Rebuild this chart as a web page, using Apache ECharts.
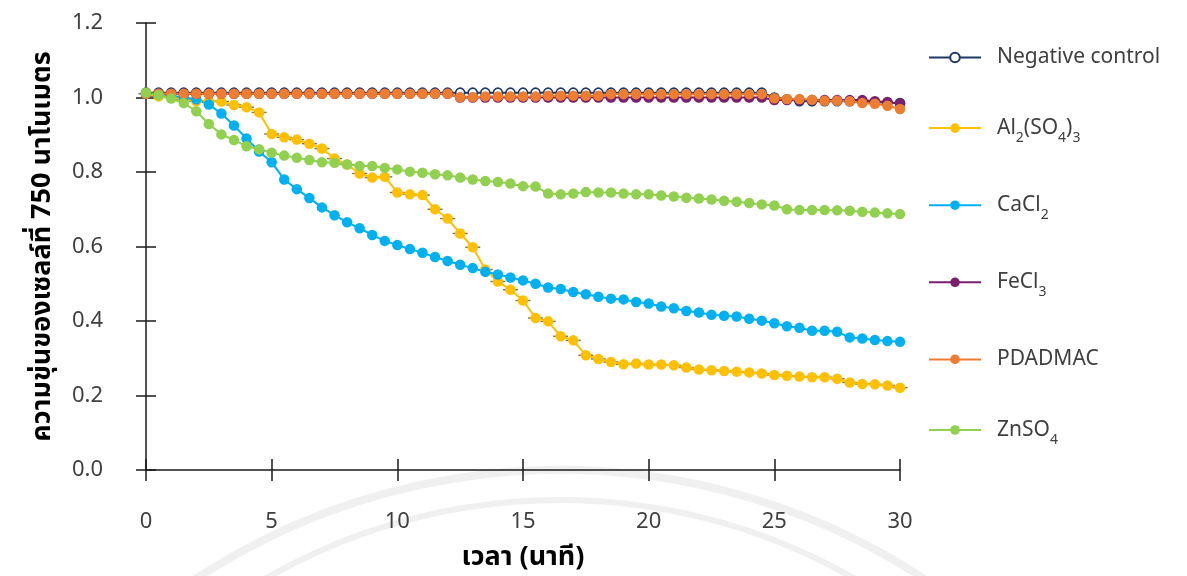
<!DOCTYPE html>
<html>
<head>
<meta charset="utf-8">
<script src="https://cdn.jsdelivr.net/npm/echarts@6/dist/echarts.min.js"></script>
<style>
  html, body { margin: 0; padding: 0; background: #ffffff; }
  #chart { width: 1187px; height: 576px; }
</style>
</head>
<body>
<div id="chart"></div>
<script>
// Sampling times (minutes), one reading every 30 s
const minutes = [
  0, 0.5, 1, 1.5, 2, 2.5, 3, 3.5, 4, 4.5,
  5, 5.5, 6, 6.5, 7, 7.5, 8, 8.5, 9, 9.5,
  10, 10.5, 11, 11.5, 12, 12.5, 13, 13.5, 14, 14.5,
  15, 15.5, 16, 16.5, 17, 17.5, 18, 18.5, 19, 19.5,
  20, 20.5, 21, 21.5, 22, 22.5, 23, 23.5, 24, 24.5,
  25, 25.5, 26, 26.5, 27, 27.5, 28, 28.5, 29, 29.5, 30
];

// Optical density at 750 nm for each flocculant
const negativeControl = [
  1.013, 1.013, 1.013, 1.013, 1.013, 1.013, 1.013, 1.013, 1.013, 1.013,
  1.013, 1.013, 1.013, 1.013, 1.013, 1.013, 1.013, 1.013, 1.013, 1.013,
  1.013, 1.013, 1.013, 1.013, 1.013, 1.013, 1.013, 1.013, 1.013, 1.013,
  1.013, 1.013, 1.013, 1.013, 1.013, 1.013, 1.013, 1.013, 1.013, 1.013,
  1.013, 1.013, 1.013, 1.013, 1.013, 1.013, 1.013, 1.013, 1.013, 1.013,
  1.000, 0.995, 0.990, 0.990, 0.990, 0.990, 0.990, 0.990, 0.988, 0.986, 0.985
];
const aluminiumSulfate = [
  1.010, 1.003, 1.000, 0.995, 0.990, 0.990, 0.989, 0.980, 0.974, 0.960,
  0.902, 0.893, 0.887, 0.876, 0.863, 0.836, 0.820, 0.796, 0.785, 0.787,
  0.745, 0.740, 0.738, 0.700, 0.675, 0.635, 0.598, 0.538, 0.506, 0.484,
  0.455, 0.408, 0.399, 0.359, 0.348, 0.308, 0.298, 0.290, 0.284, 0.286,
  0.283, 0.283, 0.281, 0.275, 0.270, 0.268, 0.266, 0.264, 0.262, 0.259,
  0.255, 0.253, 0.251, 0.249, 0.249, 0.245, 0.235, 0.231, 0.230, 0.227, 0.221
];
const calciumChloride = [
  1.010, 1.010, 1.005, 1.000, 0.995, 0.981, 0.957, 0.925, 0.890, 0.855,
  0.826, 0.780, 0.754, 0.730, 0.705, 0.684, 0.665, 0.649, 0.631, 0.615,
  0.604, 0.593, 0.583, 0.572, 0.561, 0.551, 0.542, 0.532, 0.525, 0.517,
  0.509, 0.500, 0.490, 0.486, 0.478, 0.472, 0.465, 0.460, 0.458, 0.451,
  0.447, 0.439, 0.434, 0.427, 0.423, 0.417, 0.414, 0.412, 0.406, 0.401,
  0.394, 0.386, 0.382, 0.374, 0.374, 0.371, 0.356, 0.353, 0.349, 0.346, 0.344
];
const ferricChloride = [
  1.010, 1.010, 1.010, 1.010, 1.010, 1.010, 1.010, 1.010, 1.010, 1.010,
  1.010, 1.010, 1.010, 1.010, 1.010, 1.010, 1.010, 1.010, 1.010, 1.010,
  1.010, 1.010, 1.010, 1.010, 1.010, 1.000, 1.000, 1.000, 1.000, 1.000,
  1.000, 1.000, 1.000, 1.000, 1.000, 1.000, 1.000, 1.000, 1.000, 1.000,
  1.000, 1.000, 1.000, 1.000, 1.000, 1.000, 1.000, 1.000, 1.000, 1.000,
  0.993, 0.993, 0.993, 0.993, 0.993, 0.993, 0.993, 0.993, 0.990, 0.988, 0.984
];
const pdadmac = [
  1.010, 1.010, 1.010, 1.010, 1.010, 1.010, 1.010, 1.010, 1.010, 1.010,
  1.010, 1.010, 1.010, 1.010, 1.010, 1.010, 1.010, 1.010, 1.010, 1.010,
  1.010, 1.010, 1.010, 1.010, 1.010, 1.001, 1.001, 1.003, 1.003, 1.003,
  1.003, 1.003, 1.005, 1.005, 1.005, 1.005, 1.005, 1.009, 1.009, 1.009,
  1.009, 1.009, 1.009, 1.009, 1.009, 1.009, 1.009, 1.009, 1.009, 1.009,
  0.998, 0.996, 0.996, 0.994, 0.991, 0.991, 0.990, 0.985, 0.983, 0.978, 0.969
];
const zincSulfate = [
  1.013, 1.006, 0.997, 0.985, 0.963, 0.929, 0.901, 0.886, 0.869, 0.861,
  0.852, 0.844, 0.838, 0.832, 0.826, 0.825, 0.820, 0.816, 0.816, 0.811,
  0.807, 0.801, 0.798, 0.794, 0.791, 0.785, 0.780, 0.776, 0.773, 0.769,
  0.762, 0.761, 0.742, 0.740, 0.742, 0.746, 0.745, 0.745, 0.742, 0.740,
  0.740, 0.737, 0.734, 0.731, 0.729, 0.726, 0.723, 0.720, 0.717, 0.713,
  0.710, 0.700, 0.698, 0.698, 0.698, 0.697, 0.696, 0.693, 0.691, 0.689, 0.687
];

const seriesNames = ['Negative control', 'Al2(SO4)3', 'CaCl2', 'FeCl3', 'PDADMAC', 'ZnSO4'];
const seriesValues = [negativeControl, aluminiumSulfate, calciumChloride, ferricChloride, pdadmac, zincSulfate];
const seriesColors = ['#1F3864', '#FFC000', '#00B0F0', '#7A1F6C', '#ED7D31', '#92D050'];

const yAxisTitle = 'ความขุ่นของเซลล์ที่ 750 นาโนเมตร';
const xAxisTitle = 'เวลา (นาที)';

const FONT = "'Noto Sans', 'Noto Sans Thai', 'DejaVu Sans', sans-serif";
const AXIS_COLOR = '#1a1a1a';
const TEXT_COLOR = '#404040';

const pairs = values => minutes.map((m, i) => [m, values[i]]);

// Chemical formulas: digits become subscripts in the legend
function formulaRich(name) {
  const parts = name.match(/\d+|\D+/g) || [];
  return '{g|}' + parts.map(p => /^\d+$/.test(p) ? '{s|' + p + '}' : '{t|' + p + '}').join('');
}

const lineSeries = seriesNames.map((name, k) => {
  const hollow = k === 0;
  return {
    name,
    type: 'line',
    data: pairs(seriesValues[k]),
    symbol: 'circle',
    symbolSize: hollow ? 9 : 10.5,
    showSymbol: true,
    lineStyle: { color: seriesColors[k], width: 2 },
    itemStyle: hollow
      ? { color: '#ffffff', borderColor: seriesColors[k], borderWidth: 1.6 }
      : { color: seriesColors[k], borderWidth: 0 },
    emphasis: { disabled: true },
    animation: false,
    z: 3
  };
});

// Short horizontal whiskers behind the Al2(SO4)3 markers
const whiskerSeries = {
  name: 'whisker',
  type: 'scatter',
  data: pairs(aluminiumSulfate),
  symbol: 'rect',
  symbolSize: [15, 1.4],
  itemStyle: { color: '#4d4d4d' },
  emphasis: { disabled: true },
  silent: true,
  animation: false,
  z: 2
};

const series = [lineSeries[0], whiskerSeries].concat(lineSeries.slice(1));

const baseX = {
  type: 'value', min: 0, max: 30, interval: 5,
  splitLine: { show: false }
};
const baseY = {
  type: 'value', min: 0, max: 1.2, interval: 0.2,
  splitLine: { show: false }
};

const option = {
  backgroundColor: '#ffffff',
  animation: false,
  grid: { left: 146, right: 287, top: 23, bottom: 104, containLabel: false },
  // faint seal-like rings in the lower background
  graphic: [
    {
      type: 'arc', silent: true, z: -10,
      shape: { cx: 560, cy: 1134, r: 664, startAngle: Math.PI * 1.2, endAngle: Math.PI * 1.8 },
      style: { stroke: '#f0f0f0', lineWidth: 8, fill: null }
    },
    {
      type: 'arc', silent: true, z: -10,
      shape: { cx: 560, cy: 1091, r: 591, startAngle: Math.PI * 1.2, endAngle: Math.PI * 1.8 },
      style: { stroke: '#f0f0f0', lineWidth: 6, fill: null }
    }
  ],
  legend: {
    orient: 'vertical',
    left: 923,
    top: 42,
    itemWidth: 52,
    itemHeight: 12,
    itemGap: 49.6,
    data: seriesNames,
    formatter: formulaRich,
    textStyle: {
      color: TEXT_COLOR,
      fontFamily: FONT,
      rich: {
        g: { width: 11, lineHeight: 34 },
        t: { fontSize: 21, lineHeight: 34, color: TEXT_COLOR, fontFamily: FONT },
        s: { fontSize: 14, lineHeight: 34, verticalAlign: 'bottom', color: TEXT_COLOR, fontFamily: FONT }
      }
    }
  },
  xAxis: [
    Object.assign({}, baseX, {
      position: 'bottom',
      axisLine: { show: true, onZero: false, lineStyle: { color: AXIS_COLOR, width: 1.5 } },
      axisTick: { show: true, length: 11, lineStyle: { color: AXIS_COLOR, width: 1.5 } },
      axisLabel: { margin: 41, fontSize: 22, color: TEXT_COLOR, fontFamily: FONT },
      name: xAxisTitle,
      nameLocation: 'middle',
      nameGap: 74,
      nameTextStyle: { fontSize: 27, fontWeight: 'bold', color: '#000000', fontFamily: FONT }
    }),
    Object.assign({}, baseX, {
      position: 'bottom',
      axisLine: { show: false },
      axisTick: { show: true, inside: true, length: 11, lineStyle: { color: AXIS_COLOR, width: 1.5 } },
      axisLabel: { show: false }
    })
  ],
  yAxis: [
    Object.assign({}, baseY, {
      position: 'left',
      axisLine: { show: true, onZero: false, lineStyle: { color: AXIS_COLOR, width: 1.5 } },
      axisTick: { show: true, length: 10, lineStyle: { color: AXIS_COLOR, width: 1.5 } },
      axisLabel: {
        margin: 43, fontSize: 22, color: TEXT_COLOR, fontFamily: FONT,
        formatter: v => v.toFixed(1)
      },
      name: yAxisTitle,
      nameLocation: 'middle',
      nameGap: 90,
      nameTextStyle: { fontSize: 27, fontWeight: 'bold', color: '#000000', fontFamily: FONT }
    }),
    Object.assign({}, baseY, {
      position: 'left',
      axisLine: { show: false },
      axisTick: { show: true, inside: true, length: 10, lineStyle: { color: AXIS_COLOR, width: 1.5 } },
      axisLabel: { show: false }
    })
  ],
  series
};

const chart = echarts.init(document.getElementById('chart'), null, { renderer: 'canvas' });
chart.setOption(option);
</script>
</body>
</html>
